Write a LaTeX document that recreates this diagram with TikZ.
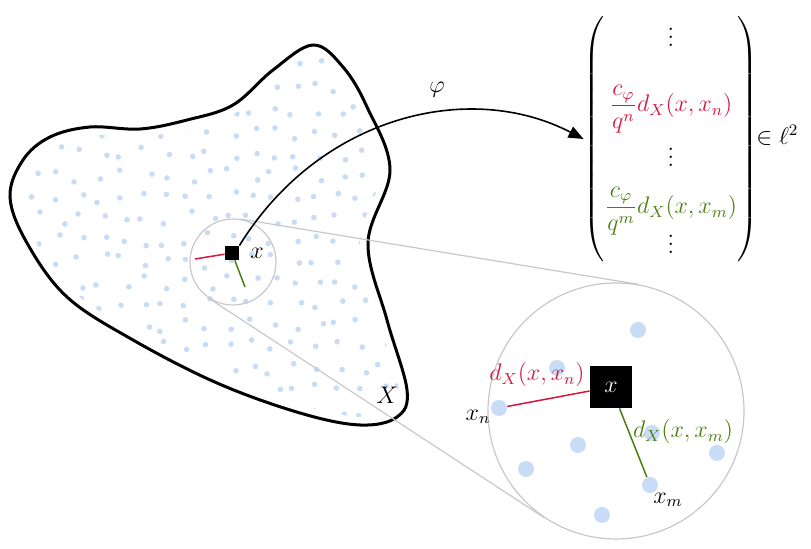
\documentclass[tikz,border=0pt]{standalone}
\usepackage{amsmath}
\usetikzlibrary{arrows.meta}
\definecolor{distred}{HTML}{D6163C}
\definecolor{distgreen}{HTML}{4A7F10}
\definecolor{ptblue}{HTML}{C8DCF5}
\definecolor{lensgray}{HTML}{C8C8C8}
\newcommand\blobshape{plot[smooth cycle, tension=0.6] coordinates {
  (313,45) (343,67) (367,107) (390,170) (368,243) (387,320) (407,390)
  (397,417) (360,425) (300,413) (217,383) (133,340) (67,297) (27,243)
  (10,197) (23,160) (50,137) (90,127) (140,129) (187,120) (233,105) (273,70)}}
\begin{document}
\begin{tikzpicture}[x=0.5pt, y=-0.5pt, font=\large,
    lens/.style={circle, draw=lensgray, line width=0.6pt, inner sep=0pt},
    pt/.style={circle, fill=ptblue, inner sep=0pt, minimum size=8pt},
    sq/.style={fill=black, inner sep=0pt},
    zoomline/.style={draw=lensgray, line width=0.6pt},
    dist/.style={line width=0.75pt},
  ]
  \useasboundingbox (0,0) rectangle (811,549);
  \pgfmathsetseed{7}
  \begin{scope}
    \clip \blobshape;
    \foreach \i in {0,...,19}
      \foreach \j in {0,...,18}
        \fill[ptblue] ({16+21.5*\i+7*rand},{46+21.5*\j+7*rand}) circle (1.4pt);
  \end{scope}
  \draw[white, line width=8pt] \blobshape;
  \draw[line width=1.5pt] \blobshape;
  \node at (387,395) {$X$};

  \node[lens, minimum size=43pt] (lens) at (233,262) {};
  \node[lens, minimum size=128pt] (zoom) at (616,411) {};
  \draw[zoomline] (lens.80.7) -- (zoom.80.7);
  \draw[zoomline] (lens.236.8) -- (zoom.236.8);

  \node[sq, minimum size=7pt] (x0) at (232,253) {};
  \node at (257,253) {$x$};
  \coordinate (an) at (195,259);
  \coordinate (am) at (245,287);
  \draw[dist, distred] (x0) -- (an);
  \draw[dist, distgreen] (x0) -- (am);

  \foreach \p in {(638,330),(557,368),(578,445),(526,469),(717,453),(652,433),(602,515)}
    \node[pt] at \p {};
  \node[pt] (xn) at (499,408) {};
  \node[pt] (xm) at (650,485) {};
  \node[sq, minimum size=21pt, text=white] (x1) at (611,387) {$x$};
  \draw[dist, distred] (x1) -- (xn);
  \draw[dist, distgreen] (x1) -- (xm);
  \node[distred] at (537,375) {$d_X(x,x_n)$};
  \node[distgreen] at (683,432) {$d_X(x,x_m)$};
  \node at (478,417) {$x_n$};
  \node at (668,500) {$x_m$};

  \node[inner sep=0pt] (vec) at (671,139) {$\setlength\arraycolsep{0pt}\left(\begin{array}{c}
      \vdots \\[15pt]
      \color{distred}\dfrac{c_\varphi}{q^n}d_X(x,x_n) \\[8pt]
      \vdots \\[6pt]
      \color{distgreen}\dfrac{c_\varphi}{q^m}d_X(x,x_m) \\[-6pt]
      \vdots
    \end{array}\right)$};
  \node[anchor=west, inner sep=0pt] (l2) at (756,135) {$\in\ell^2$};
  \draw[line width=0.8pt, -{Triangle[length=7.5pt,width=6pt]}]
    (x0.north east) .. controls (320,115) and (470,80) .. (vec.west);
  \node at (437,90) {$\varphi$};
\end{tikzpicture}
\end{document}
